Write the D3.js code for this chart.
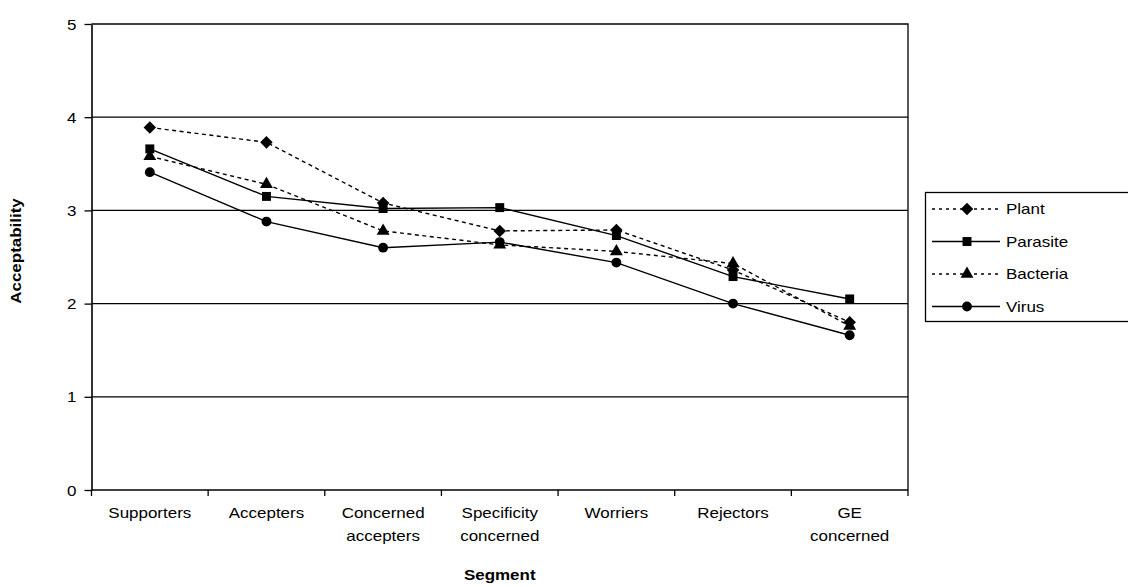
<!DOCTYPE html>
<html>
<head>
<meta charset="utf-8">
<script src="https://cdn.jsdelivr.net/npm/d3@7"></script>
<style>
  html, body { margin: 0; padding: 0; background: #fff; }
  svg { display: block; font-family: "Liberation Sans", Arial, sans-serif; }
</style>
</head>
<body>
<svg id="chart" width="1128" height="587"></svg>
<script>
// Segments on the x axis ("\n" marks a line break in the label)
const categories = [
  "Supporters",
  "Accepters",
  "Concerned\naccepters",
  "Specificity\nconcerned",
  "Worriers",
  "Rejectors",
  "GE\nconcerned"
];

// Mean acceptability per segment, one array per organism source
const plant    = [3.89, 3.73, 3.08, 2.78, 2.79, 2.36, 1.80];
const parasite = [3.66, 3.15, 3.02, 3.03, 2.73, 2.29, 2.05];
const bacteria = [3.58, 3.28, 2.78, 2.63, 2.56, 2.43, 1.76];
const virus    = [3.41, 2.88, 2.60, 2.66, 2.44, 2.00, 1.66];

const seriesNames = ["Plant", "Parasite", "Bacteria", "Virus"];
const yTicks = [0, 1, 2, 3, 4, 5];

const series = [
  { name: seriesNames[0], values: plant,    dashed: true,  symbol: d3.symbolDiamond2 },
  { name: seriesNames[1], values: parasite, dashed: false, symbol: d3.symbolSquare },
  { name: seriesNames[2], values: bacteria, dashed: true,  symbol: d3.symbolTriangle },
  { name: seriesNames[3], values: virus,    dashed: false, symbol: d3.symbolCircle }
];

const svg = d3.select("#chart");
const plot = { left: 91.5, right: 908, top: 24, bottom: 490 };
const stretch = 1.17;       // text is drawn slightly wide
const fontSize = 14.5;

const x = d3.scaleBand().domain(categories).range([plot.left, plot.right]).padding(0);
const y = d3.scaleLinear().domain([0, 5]).range([plot.bottom, plot.top]);
const cx = c => x(c) + x.bandwidth() / 2;

// Horizontal gridlines
svg.append("g")
  .selectAll("line")
  .data(yTicks.filter(t => t > 0 && t < 5))
  .join("line")
  .attr("x1", plot.left).attr("x2", plot.right)
  .attr("y1", d => y(d)).attr("y2", d => y(d))
  .attr("stroke", "#000").attr("stroke-width", 1.3);

// Plot frame: top and right edges
svg.append("path")
  .attr("d", `M${plot.left},${y(5)}H${plot.right}V${plot.bottom}`)
  .attr("fill", "none").attr("stroke", "#000").attr("stroke-width", 1.3);

// Y axis
const yAxis = svg.append("g")
  .attr("transform", `translate(${plot.left},0)`)
  .call(d3.axisLeft(y).tickValues(yTicks).tickSize(7).tickSizeOuter(0).tickFormat(d3.format("d")));
yAxis.select(".domain").attr("stroke-width", 1.6);
yAxis.selectAll(".tick line").attr("stroke-width", 1.3);
yAxis.selectAll(".tick text")
  .attr("x", 0)
  .attr("dy", "0.35em")
  .attr("transform", `translate(-15,0) scale(${stretch},1)`)
  .attr("font-size", fontSize)
  .attr("font-family", "Liberation Sans, Arial, sans-serif")
  .attr("fill", "#000");

// X axis line with ticks at segment boundaries
svg.append("line")
  .attr("x1", plot.left).attr("x2", plot.right)
  .attr("y1", plot.bottom).attr("y2", plot.bottom)
  .attr("stroke", "#000").attr("stroke-width", 1.6);
const bounds = categories.map(c => x(c)).concat([x.range()[1]]);
svg.append("g")
  .selectAll("line")
  .data(bounds)
  .join("line")
  .attr("x1", d => d).attr("x2", d => d)
  .attr("y1", plot.bottom).attr("y2", plot.bottom + 6)
  .attr("stroke", "#000").attr("stroke-width", 1.3);

// Category labels
const catLabels = svg.append("g")
  .selectAll("g")
  .data(categories)
  .join("g")
  .attr("transform", d => `translate(${cx(d)},518) scale(${stretch},1)`);
catLabels.each(function (d) {
  const lines = d.split("\n");
  d3.select(this).selectAll("text")
    .data(lines)
    .join("text")
    .attr("y", (l, i) => i * 23)
    .attr("text-anchor", "middle")
    .attr("font-size", fontSize)
    .text(l => l);
});

// Axis titles
svg.append("text")
  .attr("transform", `translate(${(plot.left + plot.right) / 2},580) scale(${stretch},1)`)
  .attr("text-anchor", "middle")
  .attr("font-size", fontSize)
  .attr("font-weight", "bold")
  .text("Segment");

svg.append("text")
  .attr("transform", `translate(21,251) rotate(-90) scale(${stretch},1)`)
  .attr("text-anchor", "middle")
  .attr("font-size", fontSize)
  .attr("font-weight", "bold")
  .text("Acceptability");

// Series lines and markers
const line = d3.line().x((v, i) => cx(categories[i])).y(v => y(v));
const symbolSize = { Plant: 100, Parasite: 80, Bacteria: 72, Virus: 76 };

series.forEach(s => {
  const g = svg.append("g").attr("class", "series");
  g.append("path")
    .attr("d", line(s.values))
    .attr("fill", "none")
    .attr("stroke", "#000")
    .attr("stroke-width", 1.4)
    .attr("stroke-dasharray", s.dashed ? "4,3.5" : null);
  g.selectAll("path.mark")
    .data(s.values)
    .join("path")
    .attr("class", "mark")
    .attr("transform", (v, i) => `translate(${cx(categories[i])},${y(v)})`)
    .attr("d", d3.symbol().type(s.symbol).size(symbolSize[s.name]))
    .attr("fill", "#000");
});

// Legend
const legend = svg.append("g");
legend.append("rect")
  .attr("x", 925.5).attr("y", 192.5)
  .attr("width", 220).attr("height", 129)
  .attr("fill", "#fff").attr("stroke", "#000").attr("stroke-width", 1.3);

const rowY = i => 209 + i * 32.5;
series.forEach((s, i) => {
  const row = legend.append("g").attr("transform", `translate(0,${rowY(i)})`);
  row.append("line")
    .attr("x1", 932).attr("x2", 1000)
    .attr("y1", 0).attr("y2", 0)
    .attr("stroke", "#000").attr("stroke-width", 1.4)
    .attr("stroke-dasharray", s.dashed ? "3,4" : null);
  row.append("path")
    .attr("transform", "translate(967,0)")
    .attr("d", d3.symbol().type(s.symbol).size(symbolSize[s.name]))
    .attr("fill", "#000");
  row.append("text")
    .attr("transform", `translate(1006,0) scale(${stretch},1)`)
    .attr("dy", "0.35em")
    .attr("font-size", fontSize)
    .text(s.name);
});
</script>
</body>
</html>
